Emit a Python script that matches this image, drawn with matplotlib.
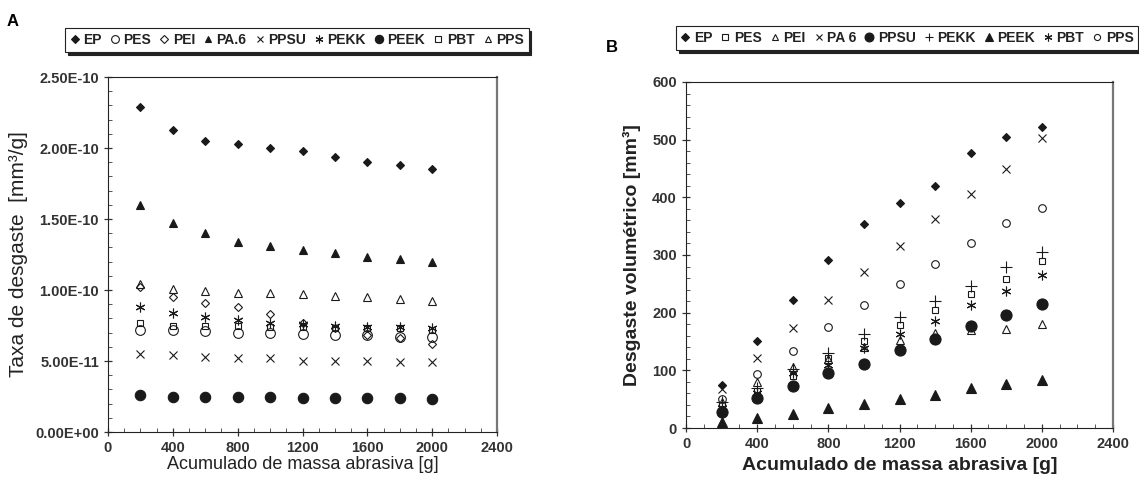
import matplotlib
matplotlib.use('Agg')
import matplotlib.pyplot as plt
from matplotlib.ticker import MultipleLocator, FuncFormatter

plt.rcParams['font.family'] = ['Liberation Sans', 'DejaVu Sans']

massa = [200, 400, 600, 800, 1000, 1200, 1400, 1600, 1800, 2000]

# Painel A - taxa de desgaste (x1e-10 mm3/g)
taxa = {
    'EP':   [2.29, 2.13, 2.05, 2.03, 2.00, 1.98, 1.94, 1.90, 1.88, 1.85],
    'PES':  [0.72, 0.72, 0.71, 0.70, 0.70, 0.69, 0.68, 0.68, 0.67, 0.67],
    'PEI':  [1.02, 0.95, 0.91, 0.88, 0.83, 0.77, 0.73, 0.68, 0.66, 0.62],
    'PA.6': [1.60, 1.47, 1.40, 1.34, 1.31, 1.28, 1.26, 1.23, 1.22, 1.20],
    'PPSU': [0.55, 0.54, 0.53, 0.52, 0.52, 0.50, 0.50, 0.50, 0.49, 0.49],
    'PEKK': [0.88, 0.84, 0.81, 0.79, 0.77, 0.76, 0.75, 0.74, 0.74, 0.73],
    'PEEK': [0.26, 0.25, 0.25, 0.25, 0.25, 0.24, 0.24, 0.24, 0.24, 0.23],
    'PBT':  [0.77, 0.75, 0.75, 0.75, 0.74, 0.74, 0.73, 0.73, 0.73, 0.72],
    'PPS':  [1.04, 1.01, 0.99, 0.98, 0.98, 0.97, 0.96, 0.95, 0.94, 0.92],
}

# Painel B - desgaste volumetrico (mm3)
volume = {
    'EP':   [75, 150, 222, 292, 354, 390, 420, 476, 505, 522],
    'PES':  [40, 65, 90, 122, 150, 178, 205, 233, 259, 290],
    'PEI':  [45, 80, 105, 120, 140, 153, 165, 170, 172, 180],
    'PA 6': [68, 122, 174, 222, 270, 315, 362, 406, 449, 503],
    'PPSU': [28, 52, 72, 95, 111, 136, 155, 177, 196, 215],
    'PEKK': [45, 70, 103, 130, 163, 192, 220, 247, 280, 306],
    'PEEK': [10, 17, 24, 35, 42, 50, 57, 70, 77, 84],
    'PBT':  [35, 60, 95, 110, 138, 163, 186, 213, 238, 265],
    'PPS':  [50, 94, 134, 175, 213, 250, 285, 320, 356, 382],
}

ast = (6, 2, 0)
k = '#1a1a1a'
# marker, size, filled
sty_a = {
    'EP': ('D', 4.5, True), 'PES': ('o', 7, False), 'PEI': ('D', 4.5, False),
    'PA.6': ('^', 6, True), 'PPSU': ('x', 5.5, False), 'PEKK': (ast, 7, False),
    'PEEK': ('o', 7.5, True), 'PBT': ('s', 5, False), 'PPS': ('^', 6, False),
}
sty_b = {
    'EP': ('D', 4.5, True), 'PES': ('s', 5, False), 'PEI': ('^', 6, False),
    'PA 6': ('x', 6, False), 'PPSU': ('o', 8, True), 'PEKK': ('+', 8, False),
    'PEEK': ('^', 6.5, True), 'PBT': (ast, 7, False), 'PPS': ('o', 5.5, False),
}

fig = plt.figure(figsize=(11.39, 4.84), dpi=100)
axA = fig.add_axes([0.0948, 0.1074, 0.3416, 0.7335])
axB = fig.add_axes([0.6023, 0.1157, 0.3749, 0.7149])


def draw(ax, data, sty, scale=1.0):
    for name, vals in data.items():
        mk, ms, filled = sty[name]
        ax.plot(massa, [v * scale for v in vals], linestyle='none', marker=mk,
                markersize=ms, color=k, markerfacecolor=k if filled else 'none',
                markeredgewidth=0.8, label=name)


def style(ax, ylo, yhi, ymaj, ymin):
    ax.set_xlim(0, 2400)
    ax.set_ylim(ylo, yhi)
    ax.xaxis.set_major_locator(MultipleLocator(400))
    ax.xaxis.set_minor_locator(MultipleLocator(100))
    ax.yaxis.set_major_locator(MultipleLocator(ymaj))
    ax.yaxis.set_minor_locator(MultipleLocator(ymin))
    ax.tick_params(which='major', direction='inout', length=6, width=0.9,
                   labelsize=10.5, labelcolor='#333333', color='#333333')
    ax.tick_params(which='minor', direction='in', length=3, width=0.7, color='#555555')
    for lab in ax.get_xticklabels() + ax.get_yticklabels():
        lab.set_fontweight('bold')
    for s in ['left', 'bottom', 'top']:
        ax.spines[s].set_color('#222222')
    ax.spines['right'].set_color('#777777')
    ax.spines['right'].set_linewidth(1.6)


draw(axA, taxa, sty_a, 1e-10)
style(axA, 0, 2.5e-10, 0.5e-10, 0.1e-10)
axA.yaxis.set_major_formatter(FuncFormatter(lambda v, p: f'{v:.2E}'))
for lab in axA.get_yticklabels():
    lab.set_fontweight('bold')
axA.set_ylabel('Taxa de desgaste  [mm³/g]', fontsize=15, color='#222222', labelpad=5)
axA.set_xlabel('Acumulado de massa abrasiva [g]', fontsize=13, color='#222222', labelpad=0.5)

draw(axB, volume, sty_b)
style(axB, 0, 600, 100, 20)
axB.set_ylabel('Desgaste volumétrico [mm³]', fontsize=14, fontweight='bold',
               color='#222222', labelpad=8)
axB.set_xlabel('Acumulado de massa abrasiva [g]', fontsize=14, fontweight='bold',
               color='#222222', labelpad=4)

for ax, cx, cy in [(axA, 297 / 1139, 1 - 40 / 484), (axB, 907 / 1139, 1 - 38 / 484)]:
    leg = ax.legend(loc='center', bbox_to_anchor=(cx, cy), bbox_transform=fig.transFigure,
                    ncol=9, fontsize=10, handlelength=0.7, handletextpad=0.25,
                    columnspacing=0.6, borderpad=0.35, frameon=True, fancybox=False,
                    shadow={'color': '#222222', 'alpha': 1}, edgecolor='#222222',
                    markerscale=0.8)
    leg.get_frame().set_linewidth(0.8)
    for t in leg.get_texts():
        t.set_fontweight('bold')
        t.set_color('#222222')

fig.text(13 / 1139, 1 - 22 / 484, 'A', fontsize=12, fontweight='bold', ha='center', va='center')
fig.text(612 / 1139, 1 - 47 / 484, 'B', fontsize=12, fontweight='bold', ha='center', va='center')

fig.savefig('out.png', dpi=100)
